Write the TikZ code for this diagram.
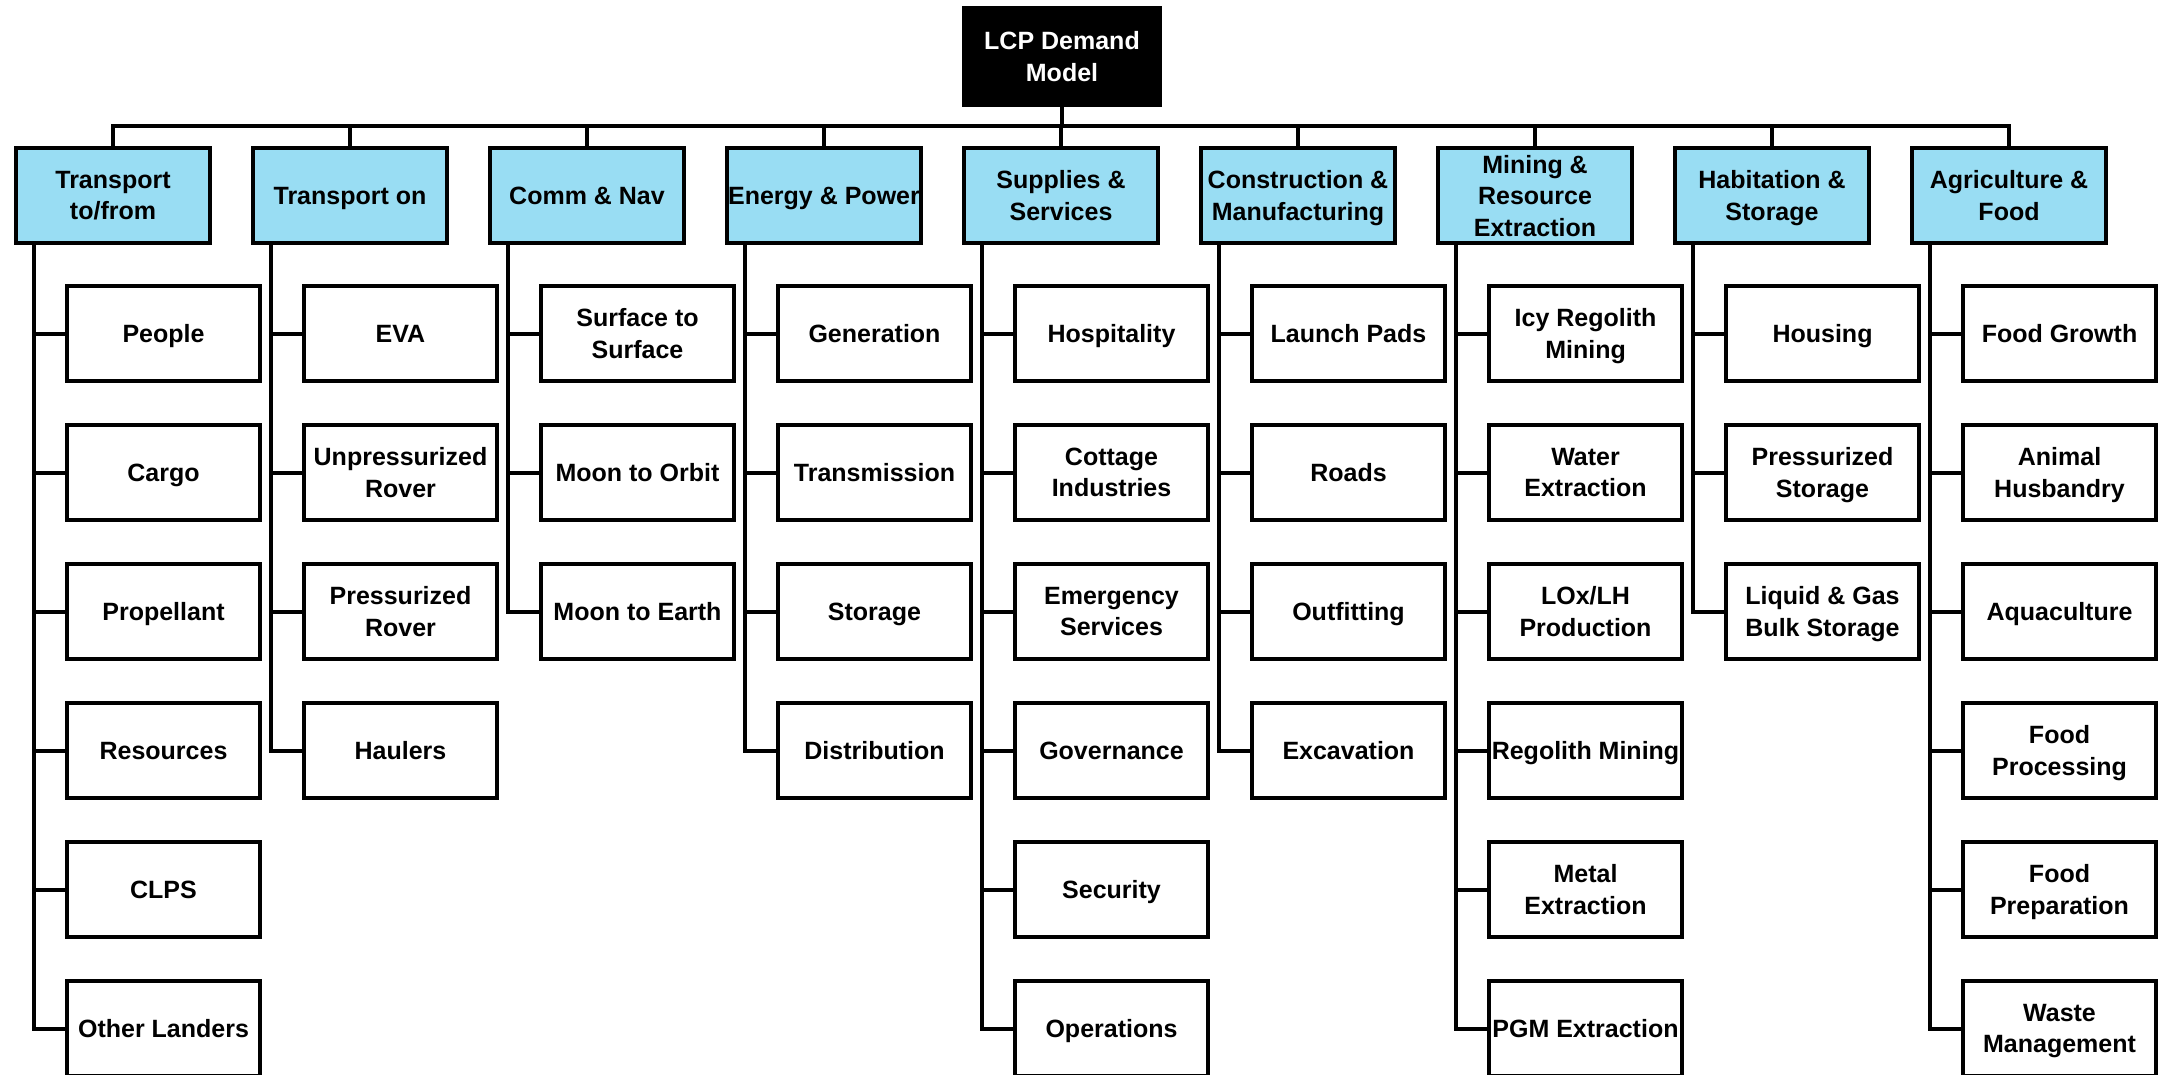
\documentclass[tikz,border=0pt]{standalone}
\usepackage{fontspec}
\setmainfont{Liberation Sans}
\usepackage{tikz}
\usetikzlibrary{positioning}
\tikzstyle{chart} = [x = 1pt, y = -1pt]
\definecolor{headColor}{RGB}{153,221,243}
\tikzstyle{boxText} = [font=\fontsize{25}{31.5}\selectfont\bfseries, align=center, inner sep=1pt, text depth=0pt]
\tikzstyle{rootStyle} = [boxText, draw=black, fill=black, text=white, line width=4pt, minimum width=196pt, minimum height=97pt]
\tikzstyle{headStyle} = [boxText, draw=black, fill=headColor, line width=4pt, minimum width=194pt, minimum height=95pt]
\tikzstyle{itemStyle} = [boxText, draw=black, fill=white, line width=4pt, minimum width=193pt, minimum height=95pt]
\tikzstyle{linkLine} = [color=black, line width=4pt, line cap=rect]
\newcommand{\colStep}{237}
\newcommand{\rowStep}{139}
\newcommand{\headBox}[2]{\node [headStyle] (head#1) at ({113 + \colStep * (#1 - 1)}, 195.5) {#2};
  \draw [linkLine] (head#1.north) -- (head#1.north |- bus);}
\newcommand{\itemBox}[3]{\node [itemStyle] (item-#1-#2) at ({163.5 + \colStep * (#1 - 1)}, {333.5 + \rowStep * (#2 - 1)}) {#3};
  \draw [linkLine] ([xshift=-79pt]head#1.south) |- (item-#1-#2.west);}

\begin{document}
\begin{tikzpicture}[chart]
  \useasboundingbox (0,0) rectangle (2159,1075);
  \clip (0,0) rectangle (2159,1075);
  \coordinate (bus) at (1062,126);

  % root
  \node [rootStyle] (root) at (1062,56.5) {LCP Demand\\Model};
  \draw [linkLine] (root.south) -- (bus);

  % headers
  \headBox{1}{Transport\\to/from}
  \headBox{2}{Transport on}
  \headBox{3}{Comm \& Nav}
  \headBox{4}{Energy \& Power}
  \headBox{5}{Supplies \&\\Services}
  \headBox{6}{Construction \&\\Manufacturing}
  \headBox{7}{Mining \&\\Resource\\Extraction}
  \headBox{8}{Habitation \&\\Storage}
  \headBox{9}{Agriculture \&\\Food}
  \draw [linkLine] (head1.north |- bus) -- (head9.north |- bus);

  % items
  \foreach \row/\label in {1/People, 2/Cargo, 3/Propellant, 4/Resources, 5/CLPS, 6/Other Landers} {
    \itemBox{1}{\row}{\label}
  }
  \foreach \row/\label in {1/EVA, 2/Unpressurized\\Rover, 3/Pressurized\\Rover, 4/Haulers} {
    \itemBox{2}{\row}{\label}
  }
  \foreach \row/\label in {1/Surface to\\Surface, 2/Moon to Orbit, 3/Moon to Earth} {
    \itemBox{3}{\row}{\label}
  }
  \foreach \row/\label in {1/Generation, 2/Transmission, 3/Storage, 4/Distribution} {
    \itemBox{4}{\row}{\label}
  }
  \foreach \row/\label in {1/Hospitality, 2/Cottage\\Industries, 3/Emergency\\Services, 4/Governance, 5/Security, 6/Operations} {
    \itemBox{5}{\row}{\label}
  }
  \foreach \row/\label in {1/Launch Pads, 2/Roads, 3/Outfitting, 4/Excavation} {
    \itemBox{6}{\row}{\label}
  }
  \foreach \row/\label in {1/Icy Regolith\\Mining, 2/Water\\Extraction, 3/{LOx/LH\\Production}, 4/Regolith Mining, 5/Metal\\Extraction, 6/PGM Extraction} {
    \itemBox{7}{\row}{\label}
  }
  \foreach \row/\label in {1/Housing, 2/Pressurized\\Storage, 3/Liquid \& Gas\\Bulk Storage} {
    \itemBox{8}{\row}{\label}
  }
  \foreach \row/\label in {1/Food Growth, 2/Animal\\Husbandry, 3/Aquaculture, 4/Food\\Processing, 5/Food\\Preparation, 6/Waste\\Management} {
    \itemBox{9}{\row}{\label}
  }
\end{tikzpicture}
\end{document}
